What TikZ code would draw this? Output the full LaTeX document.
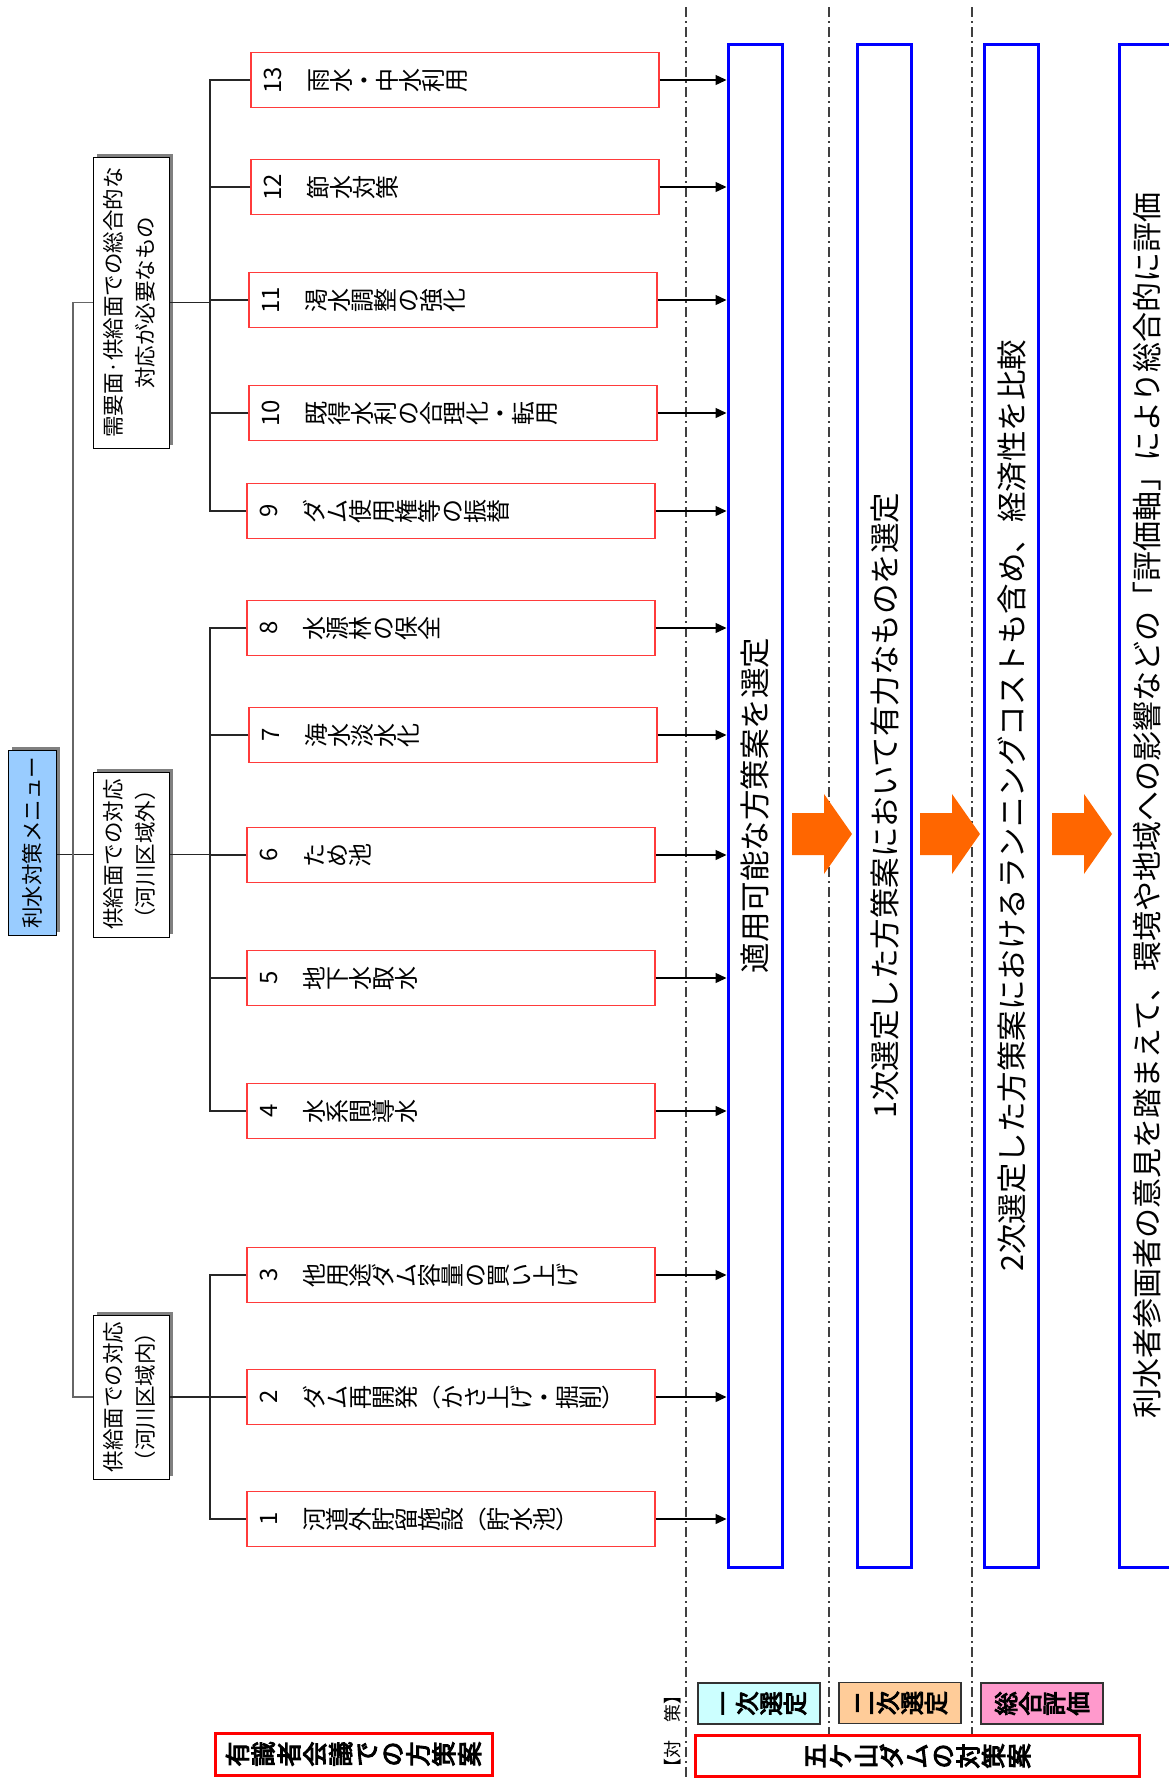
\documentclass[tikz,border=0pt]{standalone}
\usepackage{fontspec}
\setmainfont{Noto Sans CJK JP}
\newfontfamily\jpb[FakeBold=4]{Noto Sans CJK JP}
\usetikzlibrary{arrows.meta,shadows}
\makeatletter
\newcommand\tatestack[2]{\vbox{\offinterlineskip\@tfor\tate@c:=#2\do{\vbox to #1{\vss\hbox to 1.2em{\hss\raisebox{-0.38em}[0pt][0pt]{\tate@c}\hss}\vss}}}}
\makeatother
\newcommand\fleaf{\fontsize{24}{28}\selectfont}
\newcommand\fmid{\fontsize{21.5}{32}\selectfont}
\newcommand\fblue{\fontsize{30.5}{34}\selectfont}
\definecolor{rootblue}{HTML}{99CCFF}
\definecolor{cyanl}{HTML}{CCFFFF}
\definecolor{peach}{HTML}{FFCC99}
\definecolor{pinkl}{HTML}{FF99CC}
\definecolor{oarr}{HTML}{FF6600}
\definecolor{leafred}{HTML}{FF3B3B}
\definecolor{shadowgray}{HTML}{808080}
\tikzset{
  leaf/.style={draw=leafred, line width=1.3pt, minimum width=408pt, minimum height=55pt, inner sep=0pt},
  midbox/.style={draw=black, line width=1pt, fill=white, minimum width=76pt, inner sep=0pt,
     general shadow={fill=shadowgray, shadow xshift=3.5pt, shadow yshift=3.5pt}},
  bluebox/.style={draw=blue, line width=3pt, minimum width=54pt, minimum height=1523pt, inner sep=0pt},
  conn/.style={line width=1.2pt, draw=black!85},
  trunkline/.style={line width=1.6pt, draw=black!60},
  arr/.style={line width=1.4pt, draw=black, -{Triangle[length=11pt,width=10pt]}},
  dd/.style={line width=1.1pt, draw=black!75, dash pattern=on 10pt off 4pt on 2pt off 4pt},
  lbl/.style={draw=black!80, line width=1.2pt, minimum width=122pt, minimum height=41pt, inner sep=0pt},
  redbox/.style={draw=red, line width=3pt, fill=white, inner sep=0pt},
  oarrow/.style={fill=oarr},
  ltext/.style={anchor=west, inner sep=0pt}
}
\begin{document}
\begin{tikzpicture}[x=1pt,y=-1pt]
\useasboundingbox (0,0) rectangle (1169,1778);
\clip (0,0) rectangle (1169,1778);
% dash-dot separators
\draw[dd] (686,7) -- (686,1778);
\draw[dd] (829,7) -- (829,1735);
\draw[dd] (972,7) -- (972,1735);
% helper coordinates
\coordinate (tk) at (73,0);
\coordinate (bx) at (210,0);
% root and mid boxes
\node[midbox, fill=rootblue, minimum width=48pt, minimum height=185pt] (r) at (32,842.5) {\rotatebox{90}{\fmid 利水対策メニュー}};
\node[midbox, minimum height=291pt] (m1) at (131,302.5) {\rotatebox{90}{\fmid\begin{tabular}{@{}c@{}}需要面·供給面での総合的な\\対応が必要なもの\end{tabular}}};
\node[midbox, minimum height=165pt] (m2) at (131,854.5) {\rotatebox{90}{\fmid\begin{tabular}{@{}c@{}}供給面での対応\\（河川区域外）\end{tabular}}};
\node[midbox, minimum height=164pt] (m3) at (131,1397) {\rotatebox{90}{\fmid\begin{tabular}{@{}c@{}}供給面での対応\\（河川区域内）\end{tabular}}};
% blue boxes
\node[bluebox] (b1) at (755,805.5) {\rotatebox{90}{\fblue 適用可能な方策案を選定}};
\node[bluebox] (b2) at (884.5,805.5) {\rotatebox{90}{\fblue 1次選定した方策案において有力なものを選定}};
\node[bluebox] (b3) at (1011.5,805.5) {\rotatebox{90}{\fblue 2次選定した方策案におけるランニングコストも含め、経済性を比較}};
\node[bluebox, minimum width=56pt] (b4) at (1147,805.5) {\rotatebox{90}{\fontsize{30}{34}\selectfont 利水者参画者の意見を踏まえて、環境や地域への影響などの「評価軸」により総合的に評価}};
% leaves
\node[leaf] (l13) at (455,80) {};
\node[leaf] (l12) at (455,187) {};
\node[leaf] (l11) at (453,300) {};
\node[leaf] (l10) at (453,413) {};
\node[leaf] (l9) at (451,511) {};
\node[leaf] (l8) at (451,628) {};
\node[leaf] (l7) at (453,735) {};
\node[leaf] (l6) at (451,855) {};
\node[leaf] (l5) at (451,978) {};
\node[leaf] (l4) at (451,1111) {};
\node[leaf] (l3) at (451,1275) {};
\node[leaf] (l2) at (451,1397) {};
\node[leaf] (l1) at (451,1519) {};
\node[ltext] (t13) at ([xshift=10pt]l13.west) {\fleaf\rotatebox{90}{\tatestack{23pt}{{13}　雨水・中水利用}}};
\node[ltext] (t12) at ([xshift=10pt]l12.west) {\fleaf\rotatebox{90}{\tatestack{23pt}{{12}　節水対策}}};
\node[ltext] (t11) at ([xshift=10pt]l11.west) {\fleaf\rotatebox{90}{\tatestack{23pt}{{11}　渇水調整の強化}}};
\node[ltext] (t10) at ([xshift=10pt]l10.west) {\fleaf\rotatebox{90}{\tatestack{23pt}{{10}　既得水利の合理化・転用}}};
\node[ltext] (t9) at ([xshift=10pt]l9.west) {\fleaf\rotatebox{90}{\tatestack{23pt}{9　ダム使用権等の振替}}};
\node[ltext] (t8) at ([xshift=10pt]l8.west) {\fleaf\rotatebox{90}{\tatestack{23pt}{8　水源林の保全}}};
\node[ltext] (t7) at ([xshift=10pt]l7.west) {\fleaf\rotatebox{90}{\tatestack{23pt}{7　海水淡水化}}};
\node[ltext] (t6) at ([xshift=10pt]l6.west) {\fleaf\rotatebox{90}{\tatestack{23pt}{6　ため池}}};
\node[ltext] (t5) at ([xshift=10pt]l5.west) {\fleaf\rotatebox{90}{\tatestack{23pt}{5　地下水取水}}};
\node[ltext] (t4) at ([xshift=10pt]l4.west) {\fleaf\rotatebox{90}{\tatestack{23pt}{4　水系間導水}}};
\node[ltext] (t3) at ([xshift=10pt]l3.west) {\fleaf\rotatebox{90}{\tatestack{23pt}{3　他用途ダム容量の買い上げ}}};
\node[ltext] (t2) at ([xshift=10pt]l2.west) {\fleaf\rotatebox{90}{\tatestack{23pt}{2　ダム再開発︵かさ上げ・掘削︶}}};
\node[ltext] (t1) at ([xshift=10pt]l1.west) {\fleaf\rotatebox{90}{\tatestack{23pt}{1　河道外貯留施設︵貯水池︶}}};
% tree connectors
\draw[conn] (r.east |- m2.west) -- (m2.west);
\draw[trunkline] (m1.west) -- (m1.west -| tk) -- (m3.west -| tk) -- (m3.west);
\draw[conn] (m1.east) -- (m1.east -| bx);
\draw[conn] (m2.east) -- (m2.east -| bx);
\draw[conn] (m3.east) -- (m3.east -| bx);
\draw[conn] (l13.west) -- (l13.west -| bx) -- (l9.west -| bx) -- (l9.west);
\draw[conn] (l8.west) -- (l8.west -| bx) -- (l4.west -| bx) -- (l4.west);
\draw[conn] (l3.west) -- (l3.west -| bx) -- (l1.west -| bx) -- (l1.west);
\foreach \i in {12,11,10,7,6,5,2} \draw[conn] (l\i.west) -- (l\i.west -| bx);
\foreach \i in {1,...,13} \draw[arr] (l\i.east) -- (l\i.east -| b1.west);
% orange block arrows
\foreach \ax in {792,920,1052}
  \fill[oarrow] (\ax,813) -- ++(32,0) -- ++(0,-19) -- ++(28,40) -- ++(-28,40) -- ++(0,-19) -- ++(-32,0) -- cycle;
% bottom legend
\node[inner sep=0pt] (tai) at (673,1731) {\fontsize{18}{18}\selectfont\rotatebox{90}{【対　策】}};
\node[lbl, fill=cyanl] (s1) at (759,1703.5) {\jpb\fontsize{24}{24}\selectfont\rotatebox{90}{\tatestack{24pt}{一次選定}}};
\node[lbl, fill=peach] (s2) at (900,1703) {\jpb\fontsize{24}{24}\selectfont\rotatebox{90}{\tatestack{24pt}{二次選定}}};
\node[lbl, fill=pinkl] (s3) at (1042,1703.5) {\jpb\fontsize{24}{24}\selectfont\rotatebox{90}{\tatestack{24pt}{総合評価}}};
\node[redbox, minimum width=277pt, minimum height=42pt] (p1) at (353.5,1754) {\jpb\fontsize{25}{25}\selectfont\rotatebox{90}{\tatestack{25.8pt}{有識者会議での方策案}}};
\node[redbox, minimum width=444pt, minimum height=41pt] (p2) at (917,1756) {\jpb\fontsize{25}{25}\selectfont\rotatebox{90}{\tatestack{25.5pt}{五ケ山ダムの対策案}}};
\end{tikzpicture}
\end{document}
